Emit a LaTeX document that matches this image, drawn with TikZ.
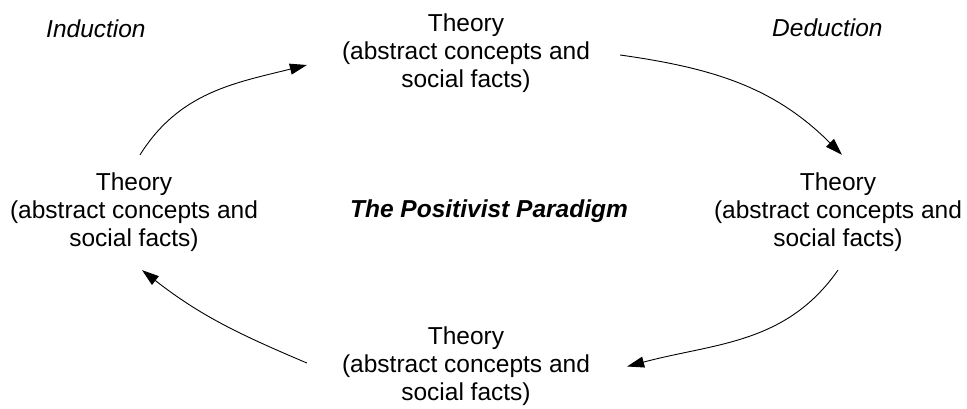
\documentclass[tikz,border=0pt]{standalone}
\usepackage{fontspec}
\setmainfont{Liberation Sans}
\usetikzlibrary{arrows.meta,positioning}

\begin{document}
\begin{tikzpicture}[
  x=1pt, y=1pt,
  font=\fontsize{24.5}{28}\selectfont,
  >={Triangle[length=17pt,width=11pt]},
  theory/.style={align=center, inner sep=4pt},
  side/.style={anchor=base west, inner sep=0pt, font=\fontsize{24.5}{28}\selectfont\itshape},
  flow/.style={->, line width=0.9pt}
]
\useasboundingbox (0,0) rectangle (967,408);

\node[theory] (top) at (466,354.5) {Theory\\(abstract concepts and\\social facts)};
\node[theory] (right) at (838,195.5) {Theory\\(abstract concepts and\\social facts)};
\node[theory] (bottom) at (466,41.5) {Theory\\(abstract concepts and\\social facts)};
\node[theory] (left) at (134,195.5) {Theory\\(abstract concepts and\\social facts)};

\node[anchor=base, font=\fontsize{24.5}{28}\selectfont\bfseries\itshape] (title) at (489,191) {The Positivist Paradigm};
\node[side] (induction) at (46,370) {Induction};
\node[side] (deduction) at (772,371) {Deduction};

\draw[flow] ([shift={(6,14)}]left.north) to[out=58, in=194] ([shift={(-31,-11.5)}]top.west);
\draw[flow] ([shift={(26,-1.5)}]top.east) to[out=-8, in=135] ([shift={(4,14)}]right.north);
\draw[flow] ([shift={(0,-14)}]right.south) to[out=-125, in=15] ([shift={(33,0)}]bottom.east);
\draw[flow] ([shift={(-31,3.5)}]bottom.west) to[out=157, in=-38] ([shift={(8,-14)}]left.south);
\end{tikzpicture}
\end{document}
